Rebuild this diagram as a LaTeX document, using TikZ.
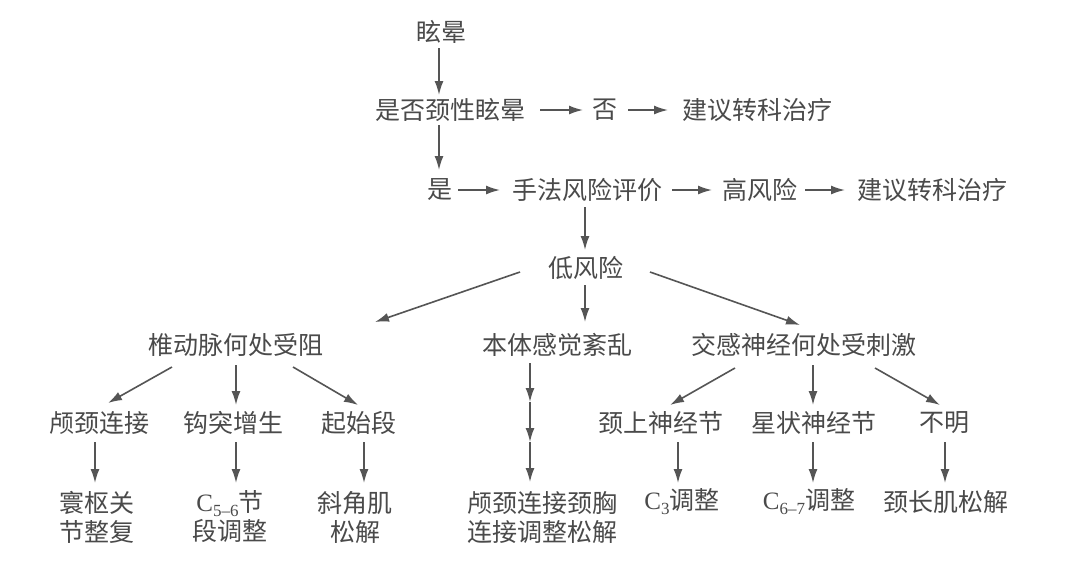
\documentclass[tikz,border=0pt]{standalone}
\usepackage{fontspec}
\newfontfamily\cjk{Noto Sans CJK SC}
\newfontfamily\serifc{Liberation Serif}
\usetikzlibrary{arrows.meta,calc}
\definecolor{txt}{HTML}{4A4A4A}
\definecolor{ln}{HTML}{555555}
\newcommand{\Cs}[1]{{\serifc C\raisebox{-5pt}{\fontsize{17}{17}\selectfont #1}}}
\tikzset{
  lbl/.style={text=txt,font=\cjk\fontsize{25}{29}\selectfont,inner sep=0pt,align=center},
  arr/.style={draw=ln,line width=1.6pt,-{Latex[length=14pt,width=9pt]}}
}
\begin{document}
\begin{tikzpicture}[x=1pt,y=-1pt]
\useasboundingbox[fill=white] (0,0) rectangle (1080,566);
% row 1-3
\node[lbl] (dizzy) at (441,32) {眩晕};
\node[lbl] (cerv) at (450,110) {是否颈性眩晕};
\node[lbl] (no) at (605,110) {否};
\node[lbl] (ref1) at (757,110) {建议转科治疗};
\node[lbl] (yes) at (440,190) {是};
\node[lbl] (eval) at (587,190) {手法风险评价};
\node[lbl] (high) at (760,190) {高风险};
\node[lbl] (ref2) at (932,190) {建议转科治疗};
\node[lbl] (low) at (586,268) {低风险};
% row 4
\node[lbl] (vert) at (236,345) {椎动脉何处受阻};
\node[lbl] (prop) at (557,345) {本体感觉紊乱};
\node[lbl] (symp) at (804,345) {交感神经何处受刺激};
% row 5
\node[lbl] (cc) at (99,423) {颅颈连接};
\node[lbl] (hook) at (233,423) {钩突增生};
\node[lbl] (start) at (359,423) {起始段};
\node[lbl] (sup) at (661,423) {颈上神经节};
\node[lbl] (star) at (814,423) {星状神经节};
\node[lbl] (unk) at (944,423) {不明};
% row 6
\node[lbl] (r1) at (97,517) {寰枢关\\节整复};
\node[lbl] (r2) at (230,517) {\Cs{5–6}节\\段调整};
\node[lbl] (r3) at (355,517) {斜角肌\\松解};
\node[lbl] (r4) at (542,518) {颅颈连接颈胸\\连接调整松解};
\node[lbl] (r5) at (682,502) {\Cs{3}调整};
\node[lbl] (r6) at (809,502) {\Cs{6–7}调整};
\node[lbl] (r7) at (946,502) {颈长肌松解};
\coordinate (m1) at (530,402);
\coordinate (m2) at (530,442);
% arrows
\draw[arr] ($(dizzy)+(-2,16)$) -- ($(cerv)+(-11,-15)$);
\draw[arr] ($(cerv)+(90,0)$) -- ($(no)+(-22,0)$);
\draw[arr] ($(no)+(23,0)$) -- ($(ref1)+(-89,0)$);
\draw[arr] ($(cerv)+(-11,15)$) -- ($(yes)+(-1,-20)$);
\draw[arr] ($(yes)+(18,0)$) -- ($(eval)+(-87,0)$);
\draw[arr] ($(eval)+(85,0)$) -- ($(high)+(-48,0)$);
\draw[arr] ($(high)+(45,0)$) -- ($(ref2)+(-87,0)$);
\draw[arr] ($(eval)+(-2,17)$) -- ($(low)+(-1,-18)$);
\draw[arr] ($(low)+(-66,4)$) -- ($(vert)+(139,-23)$);
\draw[arr] ($(low)+(-1,17)$) -- ($(prop)+(28,-23)$);
\draw[arr] ($(low)+(64,4)$) -- ($(symp)+(-4,-20)$);
\draw[arr] ($(vert)+(-64,22)$) -- ($(cc)+(9,-20)$);
\draw[arr] ($(vert)+(0,20)$) -- ($(hook)+(3,-18)$);
\draw[arr] ($(vert)+(57,22)$) -- ($(start)+(-1,-18)$);
\draw[arr] ($(cc)+(-4,19)$) -- ($(r1)+(-2,-34)$);
\draw[arr] ($(hook)+(3,19)$) -- ($(r2)+(6,-34)$);
\draw[arr] ($(start)+(5,19)$) -- ($(r3)+(9,-34)$);
\draw[arr] ($(prop)+(-27,18)$) -- (m1);
\draw[arr] (m1) -- (m2);
\draw[arr] (m2) -- ($(r4)+(-12,-36)$);
\draw[arr] ($(symp)+(-69,23)$) -- ($(sup)+(9,-18)$);
\draw[arr] ($(symp)+(9,20)$) -- ($(star)+(-1,-18)$);
\draw[arr] ($(symp)+(71,23)$) -- ($(unk)+(-4,-18)$);
\draw[arr] ($(sup)+(17,19)$) -- ($(r5)+(-4,-19)$);
\draw[arr] ($(star)+(-1,19)$) -- ($(r6)+(4,-19)$);
\draw[arr] ($(unk)+(1,19)$) -- ($(r7)+(-1,-19)$);
\end{tikzpicture}
\end{document}
